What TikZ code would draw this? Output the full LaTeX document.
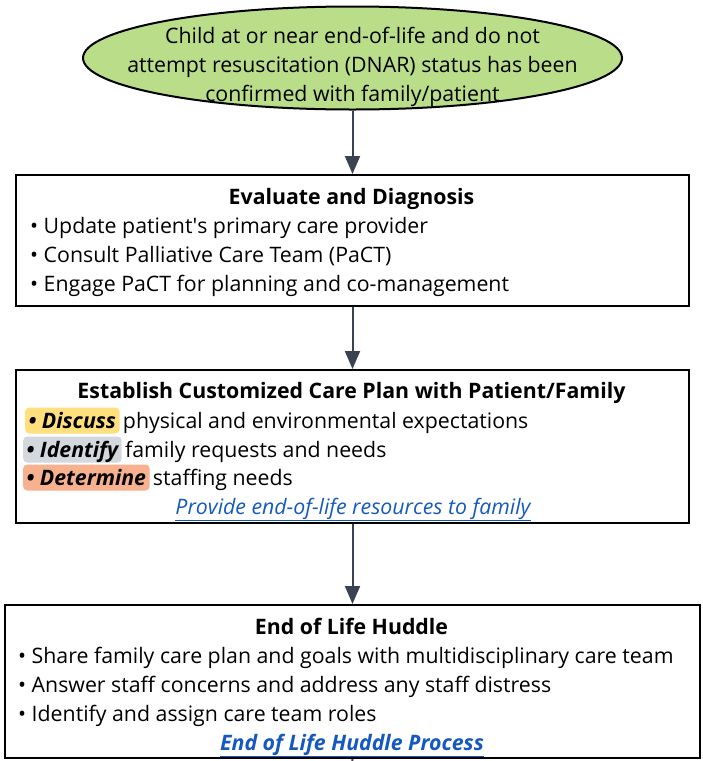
\documentclass[tikz,border=0pt]{standalone}
\usepackage{fontspec}
\setmainfont{Open Sans}
\usetikzlibrary{shapes.geometric,arrows.meta}

\definecolor{startgreen}{HTML}{B9DD88}
\definecolor{arrowgray}{HTML}{3B4252}
\definecolor{hlyellow}{HTML}{FFDF7E}
\definecolor{hlgray}{HTML}{D3D7DE}
\definecolor{hlorange}{HTML}{F8B18E}
\definecolor{linkblue}{HTML}{1559C0}

\tikzset{
    txt/.style={inner sep=0pt, font=\fontsize{21.3}{29}\selectfont},
    box/.style={draw, line width=2pt, anchor=north west, inner sep=0pt},
    hl/.style={txt, rounded corners=4pt, text height=18pt, text depth=3pt,
        inner xsep=3.5pt, inner ysep=2.5pt, anchor=base west, font=\fontsize{21.3}{29}\selectfont\bfseries\itshape},
    flow/.style={draw=arrowgray, line width=2pt, -{Triangle[width=15pt,length=18pt]}, arrowgray}
}

\begin{document}
\begin{tikzpicture}[x=1pt, y=-1pt]
    \useasboundingbox (0,0) rectangle (703,761);

    % Start ellipse
    \node[ellipse, draw, line width=2pt, fill=startgreen, minimum width=539pt,
        minimum height=103pt, inner sep=0pt] (start) at (352.5,58) {};
    \node[txt, align=center, anchor=base] (starttext) at (352.5,101)
        {Child at or near end-of-life and do not\\
         attempt resuscitation (DNAR) status has been\\
         confirmed with family/patient};

    % Evaluate and Diagnosis
    \node[box, minimum width=673pt, minimum height=131pt] (evaluate) at (15,174) {};
    \node[txt, anchor=base, font=\fontsize{21.3}{29}\selectfont\bfseries] (evaltitle) at (351.5,204) {Evaluate and Diagnosis};
    \node[txt, anchor=base west] (eval_1) at (30,233) {• Update patient\textquotesingle s primary care provider};
    \node[txt, anchor=base west] (eval_2) at (30,262) {• Consult Palliative Care Team (PaCT)};
    \node[txt, anchor=base west] (eval_3) at (30,291) {• Engage PaCT for planning and co-management};

    % Care plan
    \node[box, minimum width=673pt, minimum height=153pt] (careplan) at (15,369) {};
    \node[txt, anchor=base, font=\fontsize{21.3}{29}\selectfont\bfseries] (plantitle) at (351.5,398)
        {Establish Customized Care Plan with Patient/Family};
    \node[hl, fill=hlyellow] (discuss) at (25,428) {• Discuss};
    \node[txt, anchor=base west, xshift=3pt] (plan_1) at (discuss.base east) {physical and environmental expectations};
    \node[hl, fill=hlgray] (identify) at (23,457) {• Identify};
    \node[txt, anchor=base west, xshift=3pt] (plan_2) at (identify.base east) {family requests and needs};
    \node[hl, fill=hlorange] (determine) at (23,485) {• Determine};
    \node[txt, anchor=base west, xshift=3pt] (plan_3) at (determine.base east) {staffing needs};
    \node[txt, anchor=base, text=linkblue, font=\fontsize{21.3}{29}\selectfont\itshape] (planlink) at (353,514)
        {\underline{Provide end-of-life resources to family}};

    % End of Life Huddle
    \node[box, minimum width=695pt, minimum height=153pt] (huddle) at (4,604) {};
    \node[txt, anchor=base, font=\fontsize{21.3}{29}\selectfont\bfseries] (huddletitle) at (351.5,634) {End of Life Huddle};
    \node[txt, anchor=base west] (huddle_1) at (18,663) {• Share family care plan and goals with multidisciplinary care team};
    \node[txt, anchor=base west] (huddle_2) at (18,692) {• Answer staff concerns and address any staff distress};
    \node[txt, anchor=base west] (huddle_3) at (18,721) {• Identify and assign care team roles};
    \node[txt, anchor=base, text=linkblue, font=\fontsize{21.3}{29}\selectfont\bfseries\itshape] (huddlelink) at (352,750)
        {\underline{End of Life Huddle Process}};

    % Connectors
    \coordinate (tail) at (352,775);
    \draw[flow] (start.south) -- (evaluate.north);
    \draw[flow] (evaluate.south) -- (careplan.north);
    \draw[flow] (careplan.south) -- (huddle.north);
    \draw[arrowgray, line width=2pt] (huddle.south) -- (tail);
\end{tikzpicture}
\end{document}
